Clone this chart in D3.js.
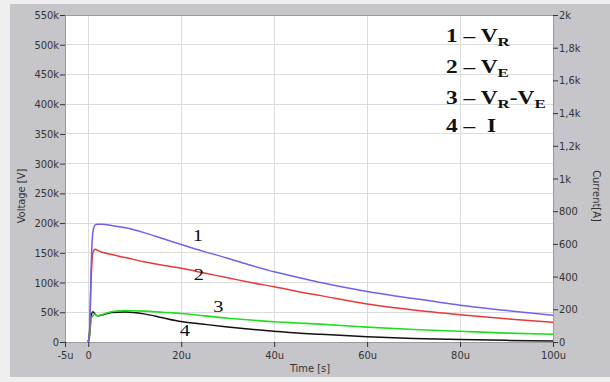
<!DOCTYPE html>
<html><head><meta charset="utf-8">
<script src="https://cdn.jsdelivr.net/npm/d3@7"></script>
<style>
html,body{margin:0;padding:0;background:#efefef;}
svg{display:block;}
</style></head>
<body>
<svg id="c" width="610" height="382"></svg>
<script>
// ---- data ----
const timeUs = [0, 0.3, 0.6, 1, 1.5, 2, 3, 5, 8, 12, 16, 20, 25, 30, 35, 40, 45, 50, 60, 70, 80, 90, 100];
const vR   = [0, 20000, 120000, 185000, 197000, 198000, 198000, 196000, 192000, 184000, 174000, 164000, 152000, 141000, 129000, 118000, 109000, 100000, 85000, 73000, 62000, 53000, 45000];
const vE   = [0, 20000, 100000, 150000, 156000, 154000, 151000, 147000, 142000, 135000, 129000, 124000, 116000, 108000, 100000, 93000, 85000, 78000, 64000, 54000, 46000, 39000, 33000];
const vRE  = [0, 10000, 38000, 44000, 47000, 44000, 46000, 51000, 53000, 52000, 50000, 48000, 44000, 40000, 37000, 34000, 32000, 30000, 25000, 21000, 18000, 15000, 13000];
const curA = [0, 50, 150, 185, 170, 160, 165, 180, 184, 172, 148, 125, 108, 92, 78, 66, 55, 47, 32, 22, 16, 10, 6];

const xTicks = [-5, 0, 20, 40, 60, 80, 100];
const xTickLabels = ["-5u", "0", "20u", "40u", "60u", "80u", "100u"];
const yTicks = [0, 50000, 100000, 150000, 200000, 250000, 300000, 350000, 400000, 450000, 500000, 550000];
const yTickLabels = ["0", "50k", "100k", "150k", "200k", "250k", "300k", "350k", "400k", "450k", "500k", "550k"];
const y2Ticks = [0, 200, 400, 600, 800, 1000, 1200, 1400, 1600, 1800, 2000];
const y2TickLabels = ["0", "200", "400", "600", "800", "1k", "1,2k", "1,4k", "1,6k", "1,8k", "2k"];

const seriesNums = ["1", "2", "3", "4"];
// label anchor positions in data units [time(us), voltage]
const labelPos = [[23.6, 170000], [23.8, 105000], [28, 51000], [20.8, 9500]];

// ---- layout ----
const svg = d3.select("#c");
const L = 65, R = 553, T = 15, B = 342;
const x = d3.scaleLinear().domain([-5, 100]).range([L, R]);
const y = d3.scaleLinear().domain([0, 550000]).range([B, T]);
const y2 = d3.scaleLinear().domain([0, 2000]).range([B, T]);

svg.append("rect").attr("x", 10).attr("y", 4).attr("width", 600).attr("height", 373).attr("fill", "#c6c6ca");
svg.append("rect").attr("x", L).attr("y", T).attr("width", R - L).attr("height", B - T).attr("fill", "#ffffff");

// grid
const g = svg.append("g");
g.selectAll("line.gx").data(xTicks.slice(1)).join("line")
  .attr("x1", d => x(d)).attr("x2", d => x(d)).attr("y1", T).attr("y2", B)
  .attr("stroke", "#dcdcdc").attr("stroke-width", 1).attr("shape-rendering", "crispEdges");
g.selectAll("line.gy").data(yTicks.slice(1)).join("line")
  .attr("x1", L).attr("x2", R).attr("y1", d => y(d)).attr("y2", d => y(d))
  .attr("stroke", "#dcdcdc").attr("stroke-width", 1).attr("shape-rendering", "crispEdges");

// border
svg.append("rect").attr("x", L).attr("y", T).attr("width", R - L).attr("height", B - T)
  .attr("fill", "none").attr("stroke", "#9a9a9a").attr("stroke-width", 1).attr("shape-rendering", "crispEdges");

// axes
const tickFont = "'Liberation Sans Narrow', 'DejaVu Sans Condensed', Arial, sans-serif";
const ax = svg.append("g").attr("transform", `translate(0,${B})`)
  .call(d3.axisBottom(x).tickValues(xTicks).tickFormat((d, i) => xTickLabels[i]).tickSize(5).tickPadding(4));
const ay = svg.append("g").attr("transform", `translate(${L},0)`)
  .call(d3.axisLeft(y).tickValues(yTicks).tickFormat((d, i) => yTickLabels[i]).tickSize(5).tickPadding(1));
const ay2 = svg.append("g").attr("transform", `translate(${R},0)`)
  .call(d3.axisRight(y2).tickValues(y2Ticks).tickFormat((d, i) => y2TickLabels[i]).tickSize(5).tickPadding(1));
[ax, ay, ay2].forEach(a => {
  a.select(".domain").remove();
  a.selectAll(".tick line").attr("stroke", "#333");
  a.selectAll(".tick text").attr("fill", "#333").style("font-family", tickFont).style("font-size", "11px");
});

// axis titles
svg.append("text").attr("x", 310).attr("y", 372).attr("text-anchor", "middle")
  .style("font-family", tickFont).style("font-size", "11px").attr("fill", "#333").text("Time [s]");
svg.append("text").attr("transform", "translate(25,196) rotate(-90)").attr("text-anchor", "middle")
  .style("font-family", tickFont).style("font-size", "11px").attr("fill", "#333").text("Voltage [V]");
svg.append("text").attr("transform", "translate(593,196) rotate(90)").attr("text-anchor", "middle")
  .style("font-family", tickFont).style("font-size", "11px").attr("fill", "#333").text("Current[A]");

// lines
svg.append("clipPath").attr("id", "cp").append("rect").attr("x", L).attr("y", T).attr("width", R - L).attr("height", B - T);
const lineV = d3.line().x((d, i) => x(timeUs[i])).y(d => y(d)).curve(d3.curveMonotoneX);
const lineI = d3.line().x((d, i) => x(timeUs[i])).y(d => y2(d)).curve(d3.curveMonotoneX);
const lg = svg.append("g").attr("clip-path", "url(#cp)");
lg.append("path").attr("d", lineI(curA)).attr("fill", "none").attr("stroke", "#111").attr("stroke-width", 1.5);
lg.append("path").attr("d", lineV(vRE)).attr("fill", "none").attr("stroke", "#22dd22").attr("stroke-width", 1.6);
lg.append("path").attr("d", lineV(vE)).attr("fill", "none").attr("stroke", "#e83838").attr("stroke-width", 1.5);
lg.append("path").attr("d", lineV(vR)).attr("fill", "none").attr("stroke", "#7062e8").attr("stroke-width", 1.5);

// number labels
svg.selectAll("text.num").data(seriesNums).join("text")
  .attr("transform", (d, i) => `translate(${x(labelPos[i][0])},${y(labelPos[i][1])}) scale(1.2,1)`)
  .attr("text-anchor", "middle")
  .style("font-family", "'Liberation Serif', 'Times New Roman', serif").style("font-size", "17px")
  .attr("fill", "#111").text(d => d);

// legend
const legY = [42, 73, 104, 132];
const legend = [
  [["1 – V", null], ["R", "sub"]],
  [["2 – V", null], ["E", "sub"]],
  [["3 – V", null], ["R", "sub"], ["-V", "up"], ["E", "sub"]],
  [["4 –  I", null]]
];
legend.forEach((parts, i) => {
  const t = svg.append("text").attr("transform", `translate(446,${legY[i]}) scale(1.3,1)`)
    .attr("xml:space", "preserve").style("white-space", "pre")
    .style("font-family", "'Liberation Serif', 'Times New Roman', serif").style("font-weight", "bold")
    .style("font-size", "18px").attr("fill", "#111");
  parts.forEach(([s, k]) => {
    const ts = t.append("tspan").text(s);
    if (k === "sub") ts.attr("dy", 4).style("font-size", "13px");
    if (k === "up") ts.attr("dy", -4);
  });
});
</script>
</body></html>
